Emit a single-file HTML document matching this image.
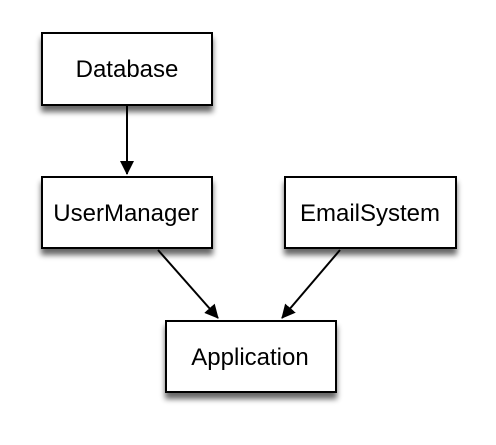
<!DOCTYPE html>
<html><head><style>
body{margin:0;background:#fff;width:496px;height:440px;overflow:hidden}
</style></head><body>
<svg width="496" height="440" xmlns="http://www.w3.org/2000/svg">
<defs>
<filter id="s" x="-20%" y="-20%" width="140%" height="160%">
<feGaussianBlur in="SourceAlpha" stdDeviation="3"/>
<feOffset dx="0" dy="6"/>
<feComponentTransfer><feFuncA type="linear" slope="0.6"/></feComponentTransfer>
<feMerge><feMergeNode/><feMergeNode in="SourceGraphic"/></feMerge>
</filter>
<marker id="a" markerWidth="14" markerHeight="14" refX="13" refY="7" orient="auto" markerUnits="userSpaceOnUse">
<path d="M0,0 L14,7 L0,14 Z" fill="#000"/>
</marker>
</defs>
<g fill="#fff" stroke="#000" stroke-width="2" filter="url(#s)">
<rect x="42" y="33" width="170" height="72"/>
<rect x="42" y="177" width="170" height="71"/>
<rect x="285" y="177" width="171" height="71"/>
<rect x="166" y="321" width="170" height="71"/>
</g>
<g stroke="#000" stroke-width="2" fill="none">
<line x1="127" y1="106" x2="127" y2="174" marker-end="url(#a)"/>
<line x1="158" y1="250" x2="218" y2="318" marker-end="url(#a)"/>
<line x1="340" y1="250" x2="282" y2="318" marker-end="url(#a)"/>
</g>
<g font-family="Liberation Sans, sans-serif" font-size="24" text-anchor="middle" fill="#000">
<text x="127" y="77">Database</text>
<text x="126" y="221">UserManager</text>
<text x="370" y="221">EmailSystem</text>
<text x="250" y="365">Application</text>
</g>
</svg>
</body></html>
